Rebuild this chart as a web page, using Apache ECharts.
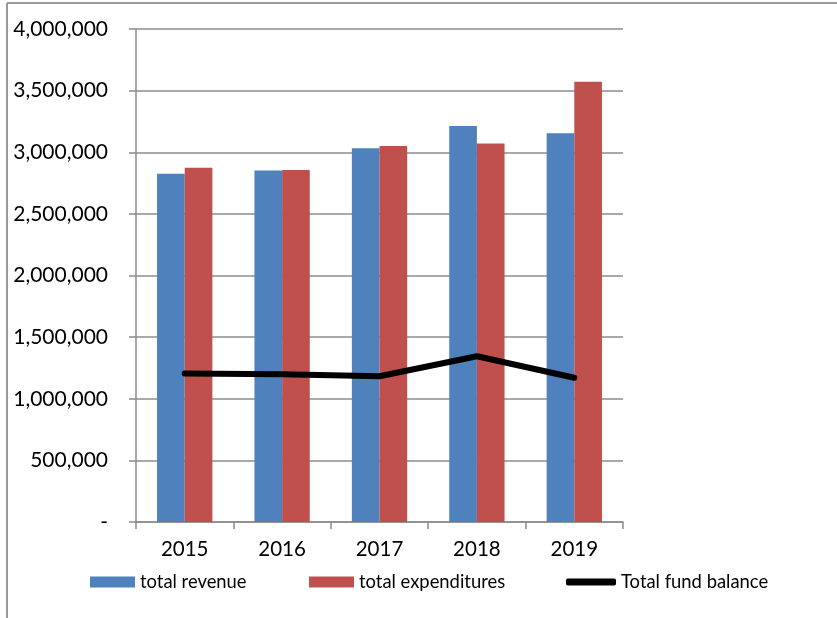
<!DOCTYPE html>
<html>
<head>
<meta charset="utf-8">
<script src="https://cdn.jsdelivr.net/npm/echarts@6/dist/echarts.min.js"></script>
<style>
html,body{margin:0;padding:0;background:#fff;}
#chart{width:837px;height:618px;}
</style>
</head>
<body>
<div id="chart"></div>
<script>
const categories = ['2015', '2016', '2017', '2018', '2019'];
const totalRevenue = [2825000, 2851000, 3033000, 3212000, 3155000];
const totalExpenditures = [2874000, 2855000, 3050000, 3072000, 3571000];
const totalFundBalance = [1204000, 1198000, 1183000, 1345000, 1170000];
const yTicks = [0, 500000, 1000000, 1500000, 2000000, 2500000, 3000000, 3500000, 4000000];

const FONT = 'Lato';
const chart = echarts.init(document.getElementById('chart'), null, {renderer: 'canvas'});
const legendText = {fontFamily: FONT, fontSize: 18.4, color: '#000'};
chart.setOption({
  animation: false,
  backgroundColor: '#fff',
  grid: {left: 136, right: 214, top: 29, bottom: 96, containLabel: false},
  graphic: [
    {type: 'line', shape: {x1: 7, y1: 3, x2: 7, y2: 618}, style: {stroke: '#9a9a9a', lineWidth: 2}},
    {type: 'line', shape: {x1: 7, y1: 3, x2: 837, y2: 3}, style: {stroke: '#9a9a9a', lineWidth: 2}}
  ],
  xAxis: {
    type: 'category',
    data: categories,
    axisLine: {lineStyle: {color: '#8c8c8c', width: 1.5}},
    axisTick: {show: true, length: 7, alignWithLabel: false, lineStyle: {color: '#8c8c8c', width: 1.5}},
    axisLabel: {fontFamily: FONT, fontSize: 20.5, color: '#000', margin: 17}
  },
  yAxis: {
    type: 'value',
    min: yTicks[0],
    max: yTicks[yTicks.length - 1],
    interval: yTicks[1] - yTicks[0],
    axisLine: {show: true, lineStyle: {color: '#8c8c8c', width: 1.5}},
    axisTick: {show: true, length: 7, lineStyle: {color: '#8c8c8c', width: 1.5}},
    splitLine: {lineStyle: {color: '#8c8c8c', width: 1.5}},
    axisLabel: {
      fontFamily: FONT, fontSize: 21, color: '#000', margin: 28,
      formatter: v => v === 0 ? '-' : v.toLocaleString('en-US')
    }
  },
  legend: [
    {data: [{name: 'total revenue', icon: 'rect'}], left: 85, top: 568, itemWidth: 45, itemHeight: 11, itemGap: 8, textStyle: legendText},
    {data: [{name: 'total expenditures', icon: 'rect'}], left: 304, top: 568, itemWidth: 45, itemHeight: 11, textStyle: legendText},
    {data: [{name: 'Total fund balance', icon: 'roundRect'}], left: 561, top: 568, itemWidth: 50, itemHeight: 7, textStyle: legendText}
  ],
  series: [
    {name: 'total revenue', type: 'bar', data: totalRevenue, barWidth: '28.4%', barGap: '0%',
     itemStyle: {color: '#4F81BD'}},
    {name: 'total expenditures', type: 'bar', data: totalExpenditures, barWidth: '28.4%', barGap: '0%',
     itemStyle: {color: '#C0504D'}},
    {name: 'Total fund balance', type: 'line', data: totalFundBalance, symbol: 'none', z: 5,
     lineStyle: {color: '#000', width: 6, cap: 'round', join: 'round'}, itemStyle: {color: '#000'}}
  ]
});
</script>
</body>
</html>
